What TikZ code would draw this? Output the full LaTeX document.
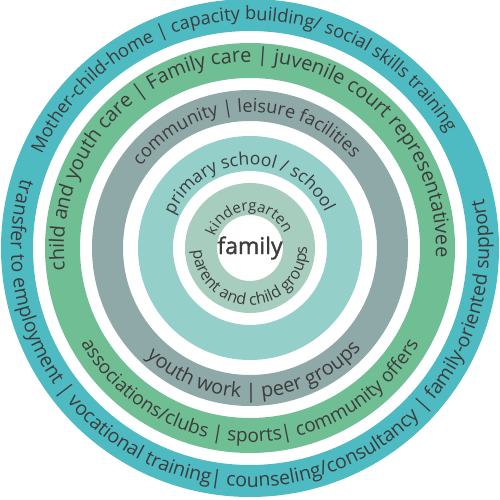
\documentclass[tikz,border=0pt]{standalone}
\usepackage{fontspec}
\setmainfont{Open Sans}
\newfontfamily\famfont{Open Sans}[FakeBold=1.5]
\usetikzlibrary{decorations.text}
\definecolor{cteal}{HTML}{4EBAC1}
\definecolor{cgreen}{HTML}{70BE93}
\definecolor{cgrey}{HTML}{8FA8A8}
\definecolor{clteal}{HTML}{94CFCA}
\definecolor{cpale}{HTML}{A7CDBE}
\definecolor{tcol}{HTML}{3C3C3C}
\tikzset{
  ring/.style 2 args={draw=#1, line width=#2},
}
% radius, centre angle, half span, font size, text
\newcommand\toparc[5]{%
  \path[decorate, decoration={text along path, text format delimiters={[}{]},
    text={[\fontsize{#4}{#4}\selectfont]#5}, text align=center, text color=tcol}]
    (C) ++({#2+#3}:#1) arc[start angle={#2+#3}, end angle={#2-#3}, radius=#1];}
\newcommand\botarc[5]{%
  \path[decorate, decoration={text along path, text format delimiters={[}{]},
    text={[\fontsize{#4}{#4}\selectfont]#5}, text align=center, text color=tcol}]
    (C) ++({#2-#3}:#1) arc[start angle={#2-#3}, end angle={#2+#3}, radius=#1];}
\begin{document}
\begin{tikzpicture}[x=1pt,y=1pt]
\useasboundingbox (0,0) rectangle (500,500);
\coordinate (C) at (250,252);
\draw[ring={cteal}{32pt}] (C) circle[radius=233];
\draw[ring={cgreen}{35pt}] (C) circle[radius=187.5];
\draw[ring={cgrey}{31pt}] (C) circle[radius=142.5];
\draw[ring={clteal}{35pt}] (C) circle[radius=94.5];
\draw[ring={cpale}{32pt}] (C) circle[radius=49];
\node[text=tcol, font=\famfont\fontsize{23}{23}\selectfont] (family) at (C) {family};
% outer ring
\toparc{228}{93}{130}{18.2}{Mother-child-home | capacity building/ social skills training}
\botarc{239}{267.5}{160}{19.5}{transfer to employment | vocational training| counseling/consultancy | family-oriented support}
% green ring
\toparc{186}{92}{160}{20}{child and youth care | Family care | juvenile court representativee}
\botarc{194}{270}{130}{19}{associations/clubs | sports| community offers}
% grey ring
\toparc{136}{92}{120}{18}{community | leisure facilities}
\botarc{150}{272}{120}{20}{youth work | peer groups}
% light teal ring
\toparc{83}{91}{120}{17.5}{primary school / school}
% pale ring
\toparc{37}{92}{120}{15}{kindergarten}
\botarc{57}{272}{170}{16}{parent and child groups}
\end{tikzpicture}
\end{document}
